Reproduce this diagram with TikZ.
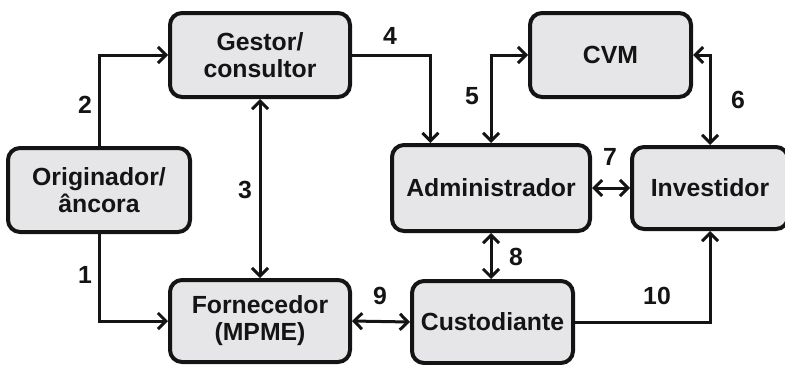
\documentclass[tikz,border=0pt]{standalone}
\usepackage{fontspec}
\setmainfont{Liberation Sans}
\usepackage{tikz}
\usetikzlibrary{arrows.meta,positioning,calc}
\definecolor{boxgray}{RGB}{230,230,232}
\definecolor{boxline}{RGB}{20,20,20}

\tikzset{
  actor/.style={draw=boxline, fill=boxgray, line width=2pt, rounded corners=6pt,
                align=center, inner sep=0pt},
  flow/.style={line width=1.5pt, draw=boxline}
}

\begin{document}
\begin{tikzpicture}[x=0.5pt, y=-0.5pt, >={Straight Barb[length=4pt,width=8pt]},
                    every node/.style={font=\bfseries\fontsize{12.4}{13.5}\selectfont, text=boxline}]
\useasboundingbox (0,0) rectangle (785,364);

% boxes
\node[actor, minimum width=90pt, minimum height=42pt] (gestor) at (260,55) {Gestor/\\consultor};
\node[actor, minimum width=80.5pt, minimum height=42pt] (cvm) at (610.5,55) {CVM};
\node[actor, minimum width=91pt, minimum height=42pt] (orig) at (99,190) {Originador/\\âncora};
\node[actor, minimum width=99pt, minimum height=43pt] (admin) at (491,188) {Administrador};
\node[actor, minimum width=78pt, minimum height=41pt] (invest) at (710,188) {Investidor};
\node[actor, minimum width=90pt, minimum height=41pt] (forn) at (260,321) {Fornecedor\\(MPME)};
\node[actor, minimum width=80.5pt, minimum height=41pt] (cust) at (492.5,322) {Custodiante};

% connectors
\draw[flow, ->] (orig.north) |- (gestor.west);
\draw[flow, ->] (orig.south) |- (forn.west);
\draw[flow, <->] (gestor.south) -- (forn.north);
\draw[flow, ->] (gestor.east) -| ($(admin.north west)!0.2!(admin.north east)$);
\draw[flow, <->] (admin.north) |- (cvm.west);
\draw[flow, <->] (cvm.east) -| (invest.north);
\draw[flow, <->] (admin.east) -- (invest.west);
\draw[flow, <->] (admin.south) -- (admin.south |- cust.north);
\draw[flow, <->] (forn.east) -- (cust.west);
\draw[flow, ->] (cust.east) -| (invest.south);

% numbers
\node (n1) at (85,275) {1};
\node (n2) at (85,105) {2};
\node (n3) at (245,190) {3};
\node (n4) at (390,36) {4};
\node (n5) at (472,96) {5};
\node (n6) at (738,100) {6};
\node (n7) at (610,157) {7};
\node (n8) at (516,257) {8};
\node (n9) at (380,296) {9};
\node (n10) at (657,296) {10};
\end{tikzpicture}
\end{document}
